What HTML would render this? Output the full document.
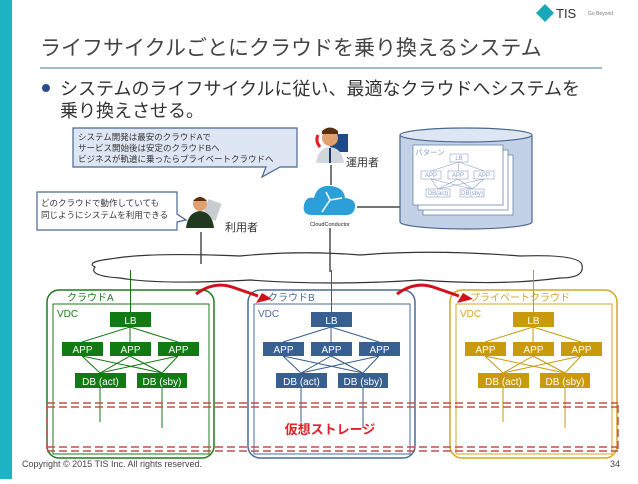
<!DOCTYPE html>
<html><head><meta charset="utf-8"><style>
body{margin:0;width:638px;height:479px;overflow:hidden;background:#fff;font-family:"Liberation Sans","Noto Sans CJK JP",sans-serif;}
</style></head><body>
<svg width="638" height="479" viewBox="0 0 638 479" xmlns="http://www.w3.org/2000/svg" font-family="Liberation Sans, Noto Sans CJK JP, sans-serif">
<rect x="0" y="0" width="12" height="479" fill="#1db3c4"/>
<polygon points="545,4 554,13 545,22 536,13" fill="#1aa7b8"/>
<text x="556" y="18" font-size="13" fill="#333">TIS</text>
<text x="588" y="15" font-size="5" fill="#777">Go Beyond</text>
<text x="40" y="55" font-size="21" fill="#444">ライフサイクルごとにクラウドを乗り換えるシステム</text>
<line x1="40" y1="68" x2="602" y2="68" stroke="#3b7a9a" stroke-width="1"/>
<circle cx="46" cy="88" r="4" fill="#2a4d8a"/>
<text x="60" y="95" font-size="18" fill="#333">システムのライフサイクルに従い、最適なクラウドへシステムを</text>
<text x="60" y="117" font-size="18" fill="#333">乗り換えさせる。</text>
<path d="M73,128 H297 V167 H280 L262,177 L266,167 H73 Z" fill="#dde6f2" stroke="#4a6790" stroke-width="1.2"/>
<text x="78" y="140" font-size="8.5" fill="#333">システム開発は最安のクラウドAで</text>
<text x="78" y="151" font-size="8.5" fill="#333">サービス開始後は安定のクラウドBへ</text>
<text x="78" y="162" font-size="8.5" fill="#333">ビジネスが軌道に乗ったらプライベートクラウドへ</text>
<rect x="330" y="134" width="18" height="18" fill="#1d4b8a"/>
<circle cx="330" cy="138" r="8" fill="#e0a070"/>
<path d="M322,131 Q330,124 338,131 L338,134 L322,134Z" fill="#5a2f10"/>
<path d="M316,163 Q318,148 330,147 Q342,148 344,163Z" fill="#d0d6dc"/>
<line x1="330" y1="148" x2="330" y2="163" stroke="#1d3a6a" stroke-width="2"/>
<path d="M318,135 q-3,6 2,12" stroke="#d22" stroke-width="3" fill="none"/>
<text x="346" y="166" font-size="11" fill="#333">運用者</text>
<line x1="331" y1="165" x2="331" y2="185" stroke="#222" stroke-width="1.2"/>
<path d="M312,215 Q302,215 304,205 Q306,196 314,198 Q317,185 330,186 Q344,187 345,198 Q356,199 355,207 Q354,215 346,215Z" fill="#2a9fd8"/>
<path d="M322,212 L330,200 L342,198 M330,200 L326,192" stroke="#fff" stroke-width="1.5" fill="none"/>
<text x="330" y="226" font-size="5.5" fill="#222" text-anchor="middle">CloudConductor</text>
<line x1="330" y1="228" x2="330" y2="272" stroke="#222" stroke-width="1.2"/>
<line x1="357" y1="207" x2="400" y2="207" stroke="#222" stroke-width="1.2"/>
<path d="M400,135 V222 A66,7 0 0 0 532,222 V135" fill="#c3d1e6" stroke="#4a6790" stroke-width="1.2"/>
<ellipse cx="466" cy="135" rx="66" ry="7" fill="#dde6f2" stroke="#4a6790" stroke-width="1.2"/>
<rect x="423" y="155" width="90" height="60" fill="#fff" stroke="#6a85b0" stroke-width="0.8"/>
<rect x="418" y="150" width="90" height="60" fill="#fff" stroke="#6a85b0" stroke-width="0.8"/>
<rect x="413" y="145" width="90" height="60" fill="#fff" stroke="#6a85b0" stroke-width="0.8"/>
<text x="415" y="155" font-size="7.5" fill="#8aa0c8">パターン</text>
<g stroke="#8aa0c8" stroke-width="0.6" fill="none">
<rect x="450" y="154" width="18" height="8"/>
<rect x="421" y="171" width="20" height="8"/><rect x="448" y="171" width="20" height="8"/><rect x="474" y="171" width="20" height="8"/>
<rect x="426" y="189" width="24" height="8"/><rect x="460" y="189" width="24" height="8"/>
<path d="M459,162 L431,171 M459,162 L458,171 M459,162 L484,171 M431,179 L438,189 M431,179 L472,189 M458,179 L438,189 M458,179 L472,189 M484,179 L438,189 M484,179 L472,189"/>
</g>
<g font-size="6" fill="#8aa0c8" text-anchor="middle">
<text x="459" y="160">LB</text><text x="431" y="177">APP</text><text x="458" y="177">APP</text><text x="484" y="177">APP</text>
<text x="438" y="195">DB(act)</text><text x="472" y="195">DB(sby)</text></g>
<path d="M37,192 H177 V214 L186,220 L177,222 V230 H37 Z" fill="#fff" stroke="#4a6790" stroke-width="1.2"/>
<text x="41" y="206" font-size="8.5" fill="#333">どのクラウドで動作していても</text>
<text x="41" y="218" font-size="8.5" fill="#333">同じようにシステムを利用できる</text>
<rect x="205" y="201" width="14" height="18" fill="#c8ccd0" transform="rotate(20 212 210)"/>
<circle cx="200" cy="204" r="7" fill="#e0a070"/>
<path d="M193,201 Q200,193 207,201 Z" fill="#5a2f10"/>
<path d="M186,228 Q188,212 200,211 Q212,212 214,228Z" fill="#1f3a1f"/>
<text x="225" y="231" font-size="11" fill="#333">利用者</text>
<line x1="201" y1="232" x2="201" y2="264" stroke="#222" stroke-width="1.2"/>
<path d="M95,267 Q85,262 110,259 Q150,252 240,256 Q300,250 360,255 Q430,249 520,256 Q580,254 582,265 Q585,278 560,278 Q500,286 420,280 Q330,286 250,280 Q160,285 120,278 Q88,276 95,267Z" fill="none" stroke="#333" stroke-width="1.2"/>
<g id="cA"></g>
<g fill="none" stroke="#c0504d" stroke-width="1.5" stroke-dasharray="8,4">
<line x1="47" y1="403" x2="618" y2="403"/><line x1="47" y1="407" x2="618" y2="407"/>
<line x1="47" y1="447" x2="618" y2="447"/><line x1="47" y1="451" x2="618" y2="451"/>
<line x1="47" y1="405" x2="47" y2="449"/><line x1="618" y1="405" x2="618" y2="449"/>
</g>
<text x="330" y="434" font-size="13" font-weight="bold" fill="#e0202a" text-anchor="middle">仮想ストレージ</text>
<path d="M196,294 Q215,280 235,288 L258,296" fill="none" stroke="#d0101a" stroke-width="3"/>
<polygon points="262,293 272,299 256,303" fill="#d0101a"/>
<path d="M397,294 Q416,280 436,288 L459,296" fill="none" stroke="#d0101a" stroke-width="3"/>
<polygon points="463,293 473,299 457,303" fill="#d0101a"/>
</svg>
<script>
const cols=[["#1f7a1f","#127a12",0,"クラウドA"],["#4a6c98","#375f90",201,"クラウドB"],["#d4a62a","#c99a0c",403,"プライベートクラウド"]];
const g=document.getElementById('cA');
let h='';
for(const [c,f,o,n] of cols){
h+=`<g transform="translate(${o},0)">
<rect x="47" y="290" width="167" height="168" rx="12" fill="none" stroke="${c}" stroke-width="1.5"/>
<rect x="53" y="304" width="156" height="150" fill="none" stroke="${c}" stroke-width="1"/>
<text x="67" y="301" font-size="10" fill="${c}">${n}</text>
<text x="57" y="317" font-size="10" fill="${c}">VDC</text>
<g stroke="${f}" stroke-width="1" fill="none">
<line x1="130.5" y1="270" x2="130.5" y2="312"/>
<path d="M130,327 L82,342 M130,327 L130,342 M130,327 L178,342 M82,356 L100,373 M82,356 L162,373 M130,356 L100,373 M130,356 L162,373 M178,356 L100,373 M178,356 L162,373 M100,388 V422 M162,388 V428"/></g>
<g fill="${f}"><rect x="110" y="312" width="41" height="15"/>
<rect x="62" y="342" width="41" height="14"/><rect x="110" y="342" width="41" height="14"/><rect x="158" y="342" width="41" height="14"/>
<rect x="75" y="373" width="51" height="15"/><rect x="137" y="373" width="50" height="15"/></g>
<g fill="#fff" font-size="10" text-anchor="middle">
<text x="130.5" y="324">LB</text><text x="82.5" y="353">APP</text><text x="130.5" y="353">APP</text><text x="178.5" y="353">APP</text>
<text x="100.5" y="385">DB (act)</text><text x="162" y="385">DB (sby)</text></g></g>`;
}
g.innerHTML=h;
</script>
<div style="position:absolute;left:22px;top:459px;font-size:9px;color:#444;">Copyright © 2015 TIS Inc. All rights reserved.</div>
<div style="position:absolute;left:610px;top:459px;font-size:9px;color:#444;">34</div>
</body></html>
